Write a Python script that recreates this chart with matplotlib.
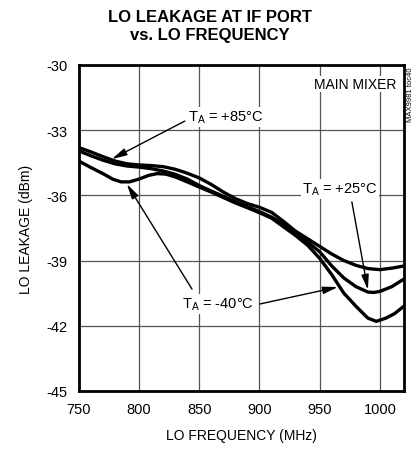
import matplotlib
matplotlib.use("Agg")
import matplotlib.pyplot as plt
from matplotlib import font_manager

# === Data ===
freq_85 = [750, 760, 770, 780, 790, 800, 810, 820, 830, 840, 850, 860, 870, 880, 890, 900, 910, 920, 930, 940, 950, 960, 970, 980, 990, 1000, 1010, 1020]
leak_85 = [-33.8, -34.0, -34.22, -34.42, -34.55, -34.6, -34.63, -34.68, -34.8, -34.98, -35.2, -35.5, -35.85, -36.15, -36.38, -36.55, -36.78, -37.2, -37.65, -38.0, -38.35, -38.7, -39.0, -39.22, -39.37, -39.42, -39.35, -39.25]

freq_25 = [750, 760, 770, 780, 790, 800, 810, 820, 830, 840, 850, 860, 870, 880, 890, 900, 910, 920, 930, 940, 950, 960, 970, 980, 990, 995, 1000, 1010, 1020]
leak_25 = [-33.95, -34.18, -34.38, -34.55, -34.65, -34.7, -34.77, -34.88, -35.03, -35.25, -35.55, -35.8, -36.05, -36.3, -36.52, -36.75, -37.0, -37.35, -37.75, -38.15, -38.6, -39.25, -39.8, -40.2, -40.45, -40.47, -40.42, -40.2, -39.85]

freq_m40 = [750, 760, 770, 778, 785, 792, 800, 808, 815, 822, 830, 840, 850, 860, 870, 880, 890, 900, 910, 920, 930, 940, 950, 960, 970, 980, 990, 997, 1005, 1012, 1020]
leak_m40 = [-34.42, -34.72, -35.0, -35.25, -35.38, -35.38, -35.25, -35.08, -35.0, -35.02, -35.15, -35.38, -35.62, -35.85, -36.1, -36.35, -36.57, -36.8, -37.05, -37.45, -37.85, -38.3, -38.9, -39.65, -40.5, -41.1, -41.65, -41.8, -41.65, -41.45, -41.1]

x_ticks = [750, 800, 850, 900, 950, 1000]
y_ticks = [-45, -42, -39, -36, -33, -30]

# === Fonts ===
installed = {f.name for f in font_manager.fontManager.ttflist}
narrow = "Liberation Sans Narrow" if "Liberation Sans Narrow" in installed else "Liberation Sans"
plt.rcParams['font.family'] = [narrow, 'DejaVu Sans']
plt.rcParams['mathtext.fontset'] = 'custom'
plt.rcParams['mathtext.rm'] = narrow
plt.rcParams['mathtext.it'] = narrow
plt.rcParams['axes.unicode_minus'] = False

# === Plot ===
fig = plt.figure(figsize=(4.15, 4.52), dpi=100)
ax = fig.add_axes([0.190, 0.133, 0.7835, 0.721])

for f, v in [(freq_85, leak_85), (freq_25, leak_25), (freq_m40, leak_m40)]:
    ax.plot(f, v, color='black', lw=2.4, solid_capstyle='round', solid_joinstyle='round', zorder=3)

ax.set_xlim(750, 1020)
ax.set_ylim(-45, -30)
ax.set_xticks(x_ticks)
ax.set_yticks(y_ticks)
ax.tick_params(length=0, pad=8, labelsize=10.5)
ax.grid(True, color='#555555', lw=0.9)
for s in ax.spines.values():
    s.set_linewidth(2.0)

ax.set_xlabel('LO FREQUENCY (MHz)', fontsize=10, labelpad=9)
ax.set_ylabel('LO LEAKAGE (dBm)', fontsize=10, labelpad=10)
fig.text(0.505, 0.978, 'LO LEAKAGE AT IF PORT\nvs. LO FREQUENCY', ha='center', va='top',
         fontsize=12, fontweight='bold', linespacing=1.25)

box = dict(facecolor='white', edgecolor='none', pad=1.0)
arrow = dict(arrowstyle='-|>,head_length=0.9,head_width=0.22', color='black', lw=1.0,
             shrinkA=0, shrinkB=0)

ax.text(872, -32.39, r'T$_\mathregular{A}$ = +85°C', ha='center', va='center', fontsize=10.5, bbox=box, zorder=4)
ax.annotate('', xy=(777.4, -34.33), xytext=(838, -32.58), arrowprops=arrow, zorder=4)

ax.text(966.8, -35.71, r'T$_\mathregular{A}$ = +25°C', ha='center', va='center', fontsize=10.5, bbox=box, zorder=4)
ax.annotate('', xy=(990, -40.35), xytext=(976.7, -36.3), arrowprops=arrow, zorder=4)

ax.text(865.4, -41.0, r'T$_\mathregular{A}$ = -40°C', ha='center', va='center', fontsize=10.5, bbox=box, zorder=4)
ax.annotate('', xy=(789.9, -35.48), xytext=(843.9, -40.31), arrowprops=arrow, zorder=4)
ax.annotate('', xy=(965.1, -40.22), xytext=(900.3, -41.0), arrowprops=arrow, zorder=4)

ax.text(1013.3, -30.87, 'MAIN MIXER', ha='right', va='center', fontsize=10, bbox=box, zorder=4)
fig.text(0.990, 0.79, 'MAX9981 toc40', rotation=90, ha='center', va='center', fontsize=5.5)

fig.savefig('out.png', dpi=100)
